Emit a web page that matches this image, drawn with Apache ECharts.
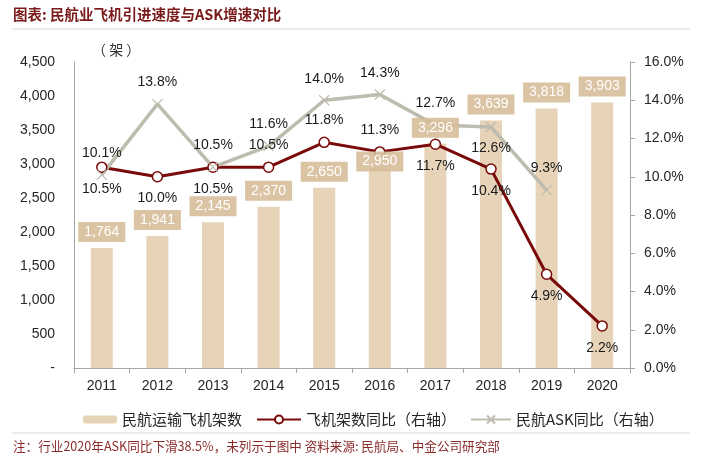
<!DOCTYPE html>
<html>
<head>
<meta charset="utf-8">
<script src="https://cdn.jsdelivr.net/npm/echarts@6/dist/echarts.min.js"></script>
<style>
    html, body { margin: 0; padding: 0; background: #fff; }
    #main { width: 703px; height: 466px; }
</style>
</head>
<body>
<div id="main"></div>
<script>
// 数据
var years = ['2011', '2012', '2013', '2014', '2015', '2016', '2017', '2018', '2019', '2020'];
var planes = [1764, 1941, 2145, 2370, 2650, 2950, 3296, 3639, 3818, 3903];
var planeYoy = [10.5, 10.0, 10.5, 10.5, 11.8, 11.3, 11.7, 10.4, 4.9, 2.2];
var askYoy = [10.1, 13.8, 10.5, 11.6, 14.0, 14.3, 12.7, 12.6, 9.3, null];

// 标签位置（样式）
var planeYoyPos = ['bottom', 'bottom', 'top', 'top', 'top', 'top', 'bottom', 'bottom', 'bottom', 'bottom'];
var askYoyPos = ['top', 'top', 'bottom', 'top', 'top', 'top', 'top', 'bottom', 'top', 'top'];

var FONT = '"Liberation Sans", "Noto Sans CJK SC", sans-serif';
var CJK = '"Noto Sans CJK SC", sans-serif';
var RED = '#7a0a0a';
var GREY = '#bdbcae';
var BAR = '#e6d3b8';
var xSymbol = 'path://M0,0L10,10M10,0L0,10';

var chart = echarts.init(document.getElementById('main'));

var labelData = planes.map(function (v, i) {
    // 2016 标签原图略下移
    return i === 5 ? { value: v, label: { offset: [0, 10] } } : v;
});

function lineData(arr, pos) {
    return arr.map(function (v, i) {
        return { value: v, label: { position: pos[i] } };
    });
}

var option = {
    animation: false,
    textStyle: { fontFamily: FONT },
    grid: { left: 74, right: 73, top: 62, bottom: 98 },
    graphic: [
        {
            type: 'text', left: 13, top: 7,
            style: { text: '图表: 民航业飞机引进速度与ASK增速对比', fill: '#7b1a1a',
                font: 'bold 14.5px ' + CJK }
        },
        {
            type: 'line', shape: { x1: 12, y1: 29, x2: 690, y2: 29 },
            style: { stroke: '#d9d9d9', lineWidth: 1 }
        },
        {
            type: 'text', left: 92, top: 43,
            style: { text: '（ 架 ）', fill: '#333', font: '14px ' + CJK }
        },
        {
            type: 'line', shape: { x1: 12, y1: 433, x2: 690, y2: 433 },
            style: { stroke: '#d9d9d9', lineWidth: 1 }
        },
        {
            type: 'text', left: 13, top: 440,
            style: { text: '注：行业2020年ASK同比下滑38.5%，未列示于图中 资料来源: 民航局、中金公司研究部',
                fill: '#8b2c2c', font: '12.6px ' + CJK }
        }
    ],
    legend: [
        {
            data: ['民航运输飞机架数'], left: 78, top: 407,
            itemWidth: 34, itemHeight: 8, itemGap: 4,
            textStyle: { fontFamily: CJK, fontSize: 15, color: '#262626' }
        },
        {
            data: ['飞机架数同比（右轴）'], left: 251, top: 407,
            itemWidth: 44, itemHeight: 10,
            textStyle: { fontFamily: CJK, fontSize: 15, color: '#262626' }
        },
        {
            data: ['民航ASK同比（右轴）'], left: 465, top: 407,
            itemWidth: 40, itemHeight: 10,
            textStyle: { fontFamily: CJK, fontSize: 15, color: '#262626' }
        }
    ],
    xAxis: {
        type: 'category',
        data: years,
        axisLine: { lineStyle: { color: '#a6a6a6' } },
        axisTick: { show: true, length: 5, lineStyle: { color: '#a6a6a6' } },
        axisLabel: { color: '#262626', fontSize: 14, margin: 11 }
    },
    yAxis: [
        {
            type: 'value', min: 0, max: 4500, interval: 500,
            axisLine: { show: true, lineStyle: { color: '#a6a6a6' } },
            axisTick: { show: false },
            splitLine: { show: false },
            axisLabel: {
                color: '#262626', fontSize: 14, margin: 19,
                formatter: function (v) { return v === 0 ? '-' : v.toLocaleString('en-US'); }
            }
        },
        {
            type: 'value', min: 0, max: 16, interval: 2,
            axisLine: { show: true, lineStyle: { color: '#a6a6a6' } },
            axisTick: { show: true, length: 5, lineStyle: { color: '#a6a6a6' } },
            splitLine: { show: false },
            axisLabel: {
                color: '#262626', fontSize: 14, margin: 14,
                formatter: function (v) { return v.toFixed(1) + '%'; }
            }
        }
    ],
    series: [
        {
            name: '民航运输飞机架数',
            type: 'bar',
            data: planes,
            barWidth: 22,
            itemStyle: { color: BAR }
        },
        {
            name: '飞机架数同比（右轴）',
            type: 'line',
            yAxisIndex: 1,
            data: lineData(planeYoy, planeYoyPos),
            symbol: 'circle', symbolSize: 10,
            lineStyle: { color: RED, width: 3 },
            itemStyle: { color: '#fff', borderColor: RED, borderWidth: 1.5 },
            label: {
                show: true, distance: 9, color: '#1a1a1a', fontSize: 14,
                formatter: function (p) { return p.value.toFixed(1) + '%'; }
            }
        },
        {
            name: '民航ASK同比（右轴）',
            type: 'line',
            yAxisIndex: 1,
            data: lineData(askYoy, askYoyPos),
            symbol: xSymbol, symbolSize: 10,
            lineStyle: { color: GREY, width: 3.5 },
            itemStyle: { color: GREY, borderColor: GREY, borderWidth: 1.2 },
            label: {
                show: true, distance: 9, color: '#1a1a1a', fontSize: 14,
                formatter: function (p) { return p.value == null ? '' : p.value.toFixed(1) + '%'; }
            }
        },
        {
            // 柱顶数值标签，置于折线之上
            name: 'barLabel',
            type: 'bar',
            z: 5,
            data: labelData,
            barWidth: 22,
            barGap: '-100%',
            silent: true,
            itemStyle: { color: 'rgba(0,0,0,0)' },
            label: {
                show: true, position: 'top', distance: 6,
                color: '#fff', fontSize: 14,
                backgroundColor: 'rgba(214,188,150,0.88)',
                padding: [3, 6],
                formatter: function (p) { return p.value.toLocaleString('en-US'); }
            }
        }
    ]
};

chart.setOption(option);
</script>
</body>
</html>
